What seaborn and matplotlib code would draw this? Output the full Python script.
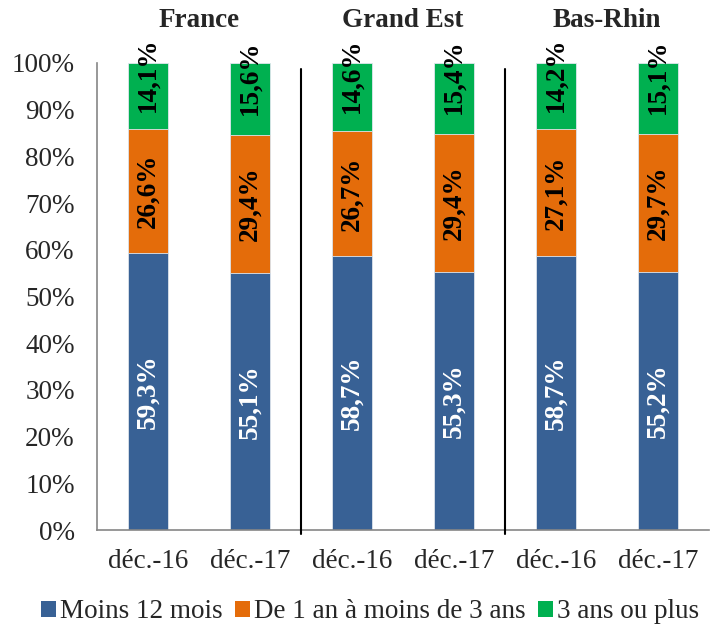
import matplotlib
matplotlib.use("Agg")
import matplotlib.pyplot as plt
import seaborn as sns
import numpy as np
import pandas as pd

# ---- data ----
groups = ["France", "Grand Est", "Bas-Rhin"]
periods = ["déc.-16", "déc.-17"]
series_names = ["Moins 12 mois", "De 1 an à moins de 3 ans", "3 ans ou plus"]
moins12 = [59.3, 55.1, 58.7, 55.3, 58.7, 55.2]
de1a3 = [26.6, 29.4, 26.7, 29.4, 27.1, 29.7]
plus3 = [14.1, 15.6, 14.6, 15.4, 14.2, 15.1]
colors = ["#386195", "#E46C0A", "#00B050"]

sns.set_theme(style="white")
plt.rcParams["font.family"] = ["Liberation Serif", "DejaVu Serif"]

ids = [f"{g}|{p}" for g in groups for p in periods]
xlabels = [p for g in groups for p in periods]
m = np.array(moins12); o = np.array(de1a3); p3 = np.array(plus3)
tops = [m, m + o, m + o + p3]

df = pd.DataFrame({"id": ids, "b": tops[0], "o": tops[1], "g": tops[2]})

fig = plt.figure(figsize=(7.19, 6.25), dpi=100)
ax = fig.add_axes([97 / 719, 95 / 625, 612 / 719, 467 / 625])

for col, c in zip(["g", "o", "b"], colors[::-1]):
    sns.barplot(data=df, x="id", y=col, order=ids, color=c, width=0.4,
                edgecolor="#dfe6ee", linewidth=0.6, saturation=1, ax=ax)

ax.set_xlim(-0.5, 5.5)
ax.set_ylim(0, 100)
ax.set_xlabel("")
ax.set_ylabel("")

FS = 19.5
# labels
fmt = lambda v: f"{v:.1f}".replace(".", ",") + "%"
for i in range(6):
    ax.text(i, m[i] / 2, fmt(m[i]), rotation=90, ha="center", va="center",
            color="white", fontsize=FS, fontweight="bold")
    ax.text(i, m[i] + o[i] / 2, fmt(o[i]), rotation=90, ha="center", va="center",
            color="black", fontsize=FS, fontweight="bold")
    ax.text(i, m[i] + o[i] + p3[i] / 2 + 4.6, fmt(p3[i]), rotation=90, ha="center",
            va="center", color="black", fontsize=FS, fontweight="bold", clip_on=False)

# axes styling
ax.set_yticks(np.arange(0, 101, 10))
ax.set_yticklabels([f"{v}%" for v in range(0, 101, 10)], fontsize=FS)
ax.set_xticks(np.arange(-0.5, 6, 1))
ax.set_xticklabels([])
ax.set_xticks(np.arange(6), minor=True)
ax.set_xticklabels(xlabels, minor=True, fontsize=FS)
ax.tick_params(axis="x", which="major", length=7, color="#868686", width=1.2, direction="out")
ax.tick_params(axis="x", which="minor", length=0, pad=14)
ax.tick_params(axis="y", length=7, color="#868686", width=1.2, direction="out", pad=9)
for s in ["top", "right"]:
    ax.spines[s].set_visible(False)
for s in ["left", "bottom"]:
    ax.spines[s].set_color("#868686")
    ax.spines[s].set_linewidth(1.2)

# separators
for xs in [1.5, 3.5]:
    ax.plot([xs, xs], [-0.8, 98.7], color="black", lw=1.5, clip_on=False, zorder=5)

# group titles
for k, g in enumerate(groups):
    ax.text(2 * k + 0.5, 109, g, ha="center", va="center", fontsize=19.5,
            fontweight="bold", clip_on=False)

from matplotlib.patches import Patch
handles = [Patch(facecolor=c, edgecolor="none") for c in colors]
fig.legend(handles, series_names, loc="center", bbox_to_anchor=(0.515, 0.021), ncol=3,
           frameon=False, fontsize=FS, handlelength=0.55, handleheight=0.55,
           handletextpad=0.15, columnspacing=0.45, borderpad=0.1)

fig.savefig("out.png", dpi=100)
